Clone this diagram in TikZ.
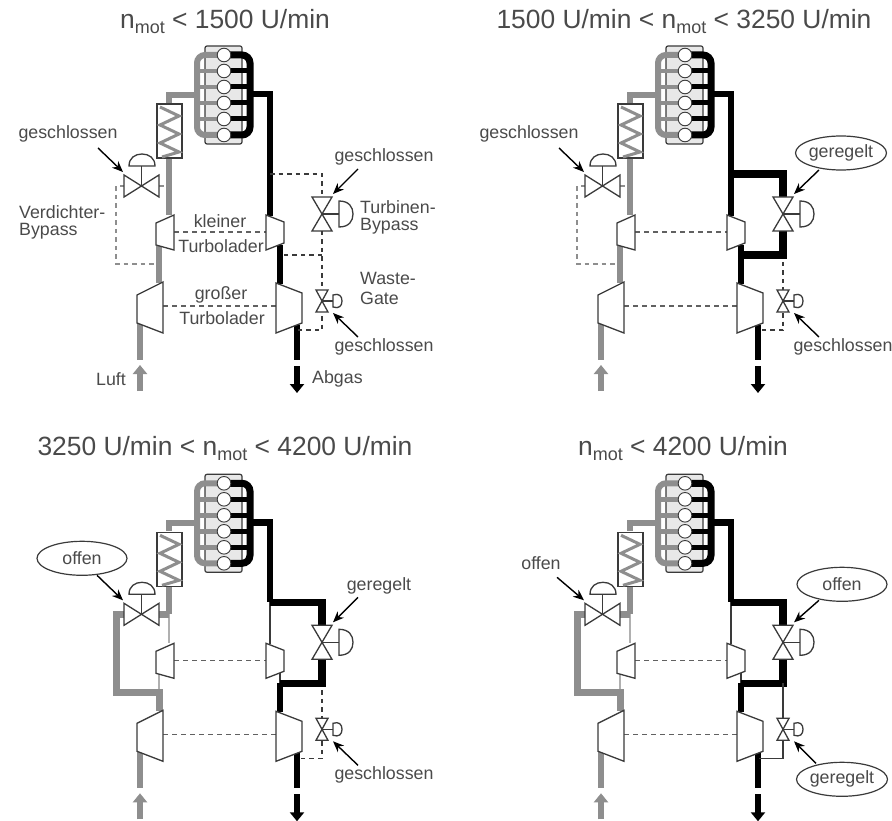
\documentclass[tikz,border=0pt]{standalone}
\usepackage{fontspec}
\setmainfont{Liberation Sans}
\usetikzlibrary{arrows.meta,shapes.geometric}
\definecolor{pipegray}{HTML}{8E8E8E}
\definecolor{inkdark}{HTML}{3A3A3A}
\definecolor{txt}{HTML}{4A4A4A}
\definecolor{blockfill}{HTML}{E8E8E8}
\tikzset{
  label text/.style={font=\fontsize{17.8}{20}\selectfont,text=txt,inner sep=0pt},
  title text/.style={font=\fontsize{26.4}{28}\selectfont,text=txt,inner sep=0pt},
  pipeair/.style={draw=pipegray,line width=6pt},
  pipegas/.style={draw=black,line width=6.5pt},
  bypassair/.style={draw=pipegray,line width=7pt,line join=miter},
  bypassgas/.style={draw=black,line width=7.5pt,line join=miter},
  thinair/.style={draw=pipegray!70,line width=1.3pt},
  thingas/.style={draw=inkdark,line width=1.3pt},
  ctrl/.style={draw=inkdark,line width=1.4pt,dash pattern=on 4.5pt off 4pt},
  ctrlair/.style={draw=pipegray,line width=1.3pt,dash pattern=on 4.5pt off 4pt},
  shaft/.style={draw=inkdark!80,line width=1.2pt,dash pattern=on 5pt off 4pt},
  part/.style={draw=inkdark,line width=1.3pt,fill=white,line join=miter},
  oval/.style={shape=ellipse,draw=inkdark,line width=1.2pt,fill=white,minimum width=90pt,minimum height=34pt,inner sep=0pt,font=\fontsize{17.8}{20}\selectfont,text=txt},
  callout/.style={draw=black,line width=1.4pt,-{Stealth[length=11pt,width=9pt]}},
  airflow/.style={draw=pipegray,line width=6pt,-{Triangle[length=9pt,width=14pt]}},
  gasflow/.style={draw=black,line width=6pt,-{Triangle[length=9pt,width=14pt]}},
}
\newcommand{\nmot}{n\raisebox{-5pt}{\fontsize{18}{20}\selectfont mot}}
\newcommand{\tmcallout}[4]{\coordinate (#1) at (#2,#3); \draw[callout] (#1) -- (#4);}
\newcommand{\tmpanel}[4]{%
\begin{scope}[shift={(#1,#2)},name prefix=#3-]
  % connection points
  \coordinate (manif) at (197,95);
  \coordinate (corner) at (169,95);
  \coordinate (coolT) at (169,103);
  \coordinate (coolB) at (169,158);
  \coordinate (tapA) at (169,186);
  \coordinate (valveAR) at (159,186);
  \coordinate (valveAL) at (124,186);
  \coordinate (aTip) at (123,172);
  \coordinate (byA) at (116,186);
  \coordinate (byAb) at (116,264);
  \coordinate (byAc) at (156,264);
  \coordinate (cs) at (169,215);
  \coordinate (csB) at (159,246);
  \coordinate (cl) at (159,283);
  \coordinate (clB) at (140,323);
  \coordinate (airend) at (140,360);
  \coordinate (airA) at (140,391);
  \coordinate (airB) at (140,365);
  \coordinate (exM) at (249,94);
  \coordinate (exC) at (270,94);
  \coordinate (tapG) at (270,174);
  \coordinate (ts) at (270,216);
  \coordinate (tsB) at (280,245);
  \coordinate (tapL) at (280,255);
  \coordinate (tl) at (280,284);
  \coordinate (tlB) at (297,325);
  \coordinate (gasend) at (297,360);
  \coordinate (gasA) at (297,366);
  \coordinate (gasB) at (297,393);
  \coordinate (byGa) at (322,174);
  \coordinate (vT) at (322,197);
  \coordinate (vTip) at (333,194);
  \coordinate (vB) at (322,231);
  \coordinate (byGb) at (322,255);
  \coordinate (byGe) at (322,262);
  \coordinate (wTip) at (333,313);
  \coordinate (byGc) at (322,330);
  \coordinate (byGd) at (298,330);
  \coordinate (sh1a) at (174,232);
  \coordinate (sh1b) at (266,232);
  \coordinate (sh2a) at (163,306);
  \coordinate (sh2b) at (276,306);
  % cooler-side and engine-side pipes
  \draw[pipeair] (manif) -- (corner) -- (coolT);
  \draw[pipegas] (exM) -- (exC) -- (tapG);
  \draw[pipeair] (clB) -- (airend);
  \draw[pipegas] (tlB) -- (gasend);
  \draw[airflow] (airA) -- (airB);
  \draw[gasflow] (gasA) -- (gasB);
  \draw[shaft] (sh1a) -- (sh1b);
  \draw[shaft] (sh2a) -- (sh2b);
  % state dependent lines and labels
  #4
  % engine
  \draw[fill=blockfill,draw=inkdark,line width=1.2pt,rounded corners=2pt] (205,46) rectangle (242,144);
  \draw[draw=pipegray,line width=6pt,rounded corners=8pt] (224,55) -- (197,55) -- (197,135) -- (224,135);
  \foreach \yy in {71,87,103,119} \draw[draw=pipegray,line width=4.5pt] (197,\yy) -- (224,\yy);
  \draw[draw=black,line width=7pt,rounded corners=8pt] (224,55) -- (250,55) -- (250,135) -- (224,135);
  \foreach \yy in {71,87,103,119} \draw[draw=black,line width=5pt] (224,\yy) -- (250,\yy);
  \foreach \yy in {55,71,87,103,119,135} \draw[draw=inkdark,line width=0.9pt,fill=white] (224,\yy) circle[radius=6.8];
  % charge air cooler
  \draw[part] (157,104) rectangle (182,158);
  \draw[draw=pipegray,line width=3pt,line join=miter] (160,107) -- (179,116) -- (160,125) -- (179,134) -- (160,143) -- (179,152) -- (162,157);
  % compressors and turbines
  \draw[part] (156,223) -- (174,215) -- (174,250) -- (156,245) -- cycle;
  \draw[part] (137,295) -- (163,282) -- (163,333) -- (137,323) -- cycle;
  \draw[part] (266,215) -- (284,222) -- (284,243) -- (266,250) -- cycle;
  \draw[part] (276,283) -- (302,293) -- (302,323) -- (276,333) -- cycle;
  % compressor bypass valve
  \draw[draw=inkdark,line width=1.3pt] (141.5,186) -- (141.5,166);
  \draw[part] (124,175) -- (159,197) -- (159,175) -- (124,197) -- cycle;
  \draw[part] (129,166) .. controls (129,158) and (135,154) .. (142,154) .. controls (149,154) and (155,158) .. (155,166) -- cycle;
  % turbine bypass valve
  \draw[draw=inkdark,line width=1.3pt] (322,214) -- (339,214);
  \draw[part] (312,197) -- (332,197) -- (312,231) -- (332,231) -- cycle;
  \draw[part] (339,201) .. controls (349,201) and (353,207) .. (353,214) .. controls (353,221) and (349,227) .. (339,227) -- cycle;
  % waste gate
  \draw[draw=inkdark,line width=1.3pt] (322,301) -- (333,301);
  \draw[part] (316,290) -- (328,290) -- (316,312) -- (328,312) -- cycle;
  \draw[part] (333,295) .. controls (339,293) and (342,296) .. (342,301) .. controls (342,306) and (339,309) .. (333,307) -- cycle;
\end{scope}}
\begin{document}
\begin{tikzpicture}[x=1pt,y=-1pt]
\useasboundingbox (0,0) rectangle (892,821);
% ---------- panel 1
\tmpanel{0}{0}{a}{
  \draw[pipegas] (tapG) -- (ts);
  \draw[pipeair] (coolB) -- (cs);
  \draw[pipeair] (csB) -- (cl);
  \draw[pipegas] (tsB) -- (tl);
  \draw[ctrlair] (valveAR) -- (tapA);
  \draw[ctrlair] (valveAL) -- (byA) -- (byAb) -- (byAc);
  \draw[ctrl] (tapG) -- (byGa) -- (vT);
  \draw[ctrl] (vB) -- (byGc) -- (byGd);
  \draw[ctrl] (byGb) -- (tapL);
  \node[title text] (title) at (225,22) {\nmot{} < 1500 U/min};
  \node[label text] (kl) at (220,221) {kleiner};
  \node[label text] (tu1) at (221,246) {Turbolader};
  \node[label text] (gr) at (221,295) {großer};
  \node[label text] (tu2) at (222,318) {Turbolader};
  \node[label text,anchor=west] (vd) at (19,212) {Verdichter-};
  \node[label text,anchor=west] (bp) at (19,231) {Bypass};
  \node[label text] (g1) at (68,134) {geschlossen};
  \tmcallout{g1s}{98}{148}{aTip}
  \node[label text] (g2) at (384,157) {geschlossen};
  \tmcallout{g2s}{358}{169}{vTip}
  \node[label text,anchor=west] (tb) at (360,207) {Turbinen-};
  \node[label text,anchor=west] (tb2) at (360,226) {Bypass};
  \node[label text,anchor=west] (wg) at (360,278) {Waste-};
  \node[label text,anchor=west] (wg2) at (360,298) {Gate};
  \node[label text] (g3) at (384,347) {geschlossen};
  \tmcallout{g3s}{358}{337}{wTip}
  \node[label text,anchor=east] (luft) at (126,379) {Luft};
  \node[label text,anchor=west] (abgas) at (312,379) {Abgas};
}
% ---------- panel 2
\tmpanel{461}{0}{b}{
  \draw[pipegas] (tapG) -- (ts);
  \draw[pipeair] (coolB) -- (cs);
  \draw[pipeair] (csB) -- (cl);
  \draw[pipegas] (tsB) -- (tl);
  \draw[ctrlair] (valveAR) -- (tapA);
  \draw[ctrlair] (valveAL) -- (byA) -- (byAb) -- (byAc);
  \draw[bypassgas] (tapG) -- (byGa) -- (vT);
  \draw[bypassgas] (vB) -- (byGb) -- (tapL);
  \draw[ctrl] (byGe) -- (byGc) -- (byGd);
  \node[title text] (title) at (223,22) {1500 U/min < \nmot{} < 3250 U/min};
  \node[label text] (g1) at (68,134) {geschlossen};
  \tmcallout{g1s}{98}{148}{aTip}
  \node[oval] (o1) at (380,153) {geregelt};
  \tmcallout{o1s}{358}{170}{vTip}
  \node[label text] (g3) at (382,347) {geschlossen};
  \tmcallout{g3s}{358}{337}{wTip}
}
% ---------- panel 3
\tmpanel{0}{428.3}{c}{
  \draw[pipeair] (coolB) -- (tapA);
  \draw[thinair] (tapA) -- (cs);
  \draw[thinair] (csB) -- (byAb -| csB);
  \draw[bypassair] (tapA) -- (valveAR);
  \draw[bypassair] (valveAL) -- (byA) -- (byAb) -- (byAb -| cl) -- (cl);
  \draw[thingas] (tapG) -- (ts);
  \draw[thingas] (tsB) -- (tapL);
  \draw[pipegas] (tapL) -- (tl);
  \draw[bypassgas] (tapG) -- (byGa) -- (vT);
  \draw[bypassgas] (vB) -- (byGb) -- (tapL);
  \draw[ctrl] (byGe) -- (byGc) -- (byGd);
  \node[title text] (title) at (225,20) {3250 U/min < \nmot{} < 4200 U/min};
  \node[oval] (o1) at (82,130) {offen};
  \tmcallout{o1s}{97}{147}{aTip}
  \node[label text] (g2) at (379,158) {geregelt};
  \tmcallout{g2s}{358}{169}{vTip}
  \node[label text] (g3) at (384,347) {geschlossen};
  \tmcallout{g3s}{358}{337}{wTip}
}
% ---------- panel 4
\tmpanel{461}{428.3}{d}{
  \draw[pipeair] (coolB) -- (tapA);
  \draw[thinair] (tapA) -- (cs);
  \draw[thinair] (csB) -- (byAb -| csB);
  \draw[bypassair] (tapA) -- (valveAR);
  \draw[bypassair] (valveAL) -- (byA) -- (byAb) -- (byAb -| cl) -- (cl);
  \draw[thingas] (tapG) -- (ts);
  \draw[thingas] (tsB) -- (tapL);
  \draw[pipegas] (tapL) -- (tl);
  \draw[bypassgas] (tapG) -- (byGa) -- (vT);
  \draw[bypassgas] (vB) -- (byGb) -- (tapL);
  \draw[thingas] (byGb) -- (byGc) -- (byGd);
  \node[title text] (title) at (222,20) {\nmot{} < 4200 U/min};
  \node[label text] (g1) at (80,135) {offen};
  \tmcallout{g1s}{96}{149}{aTip}
  \node[oval] (o1) at (381,156) {offen};
  \tmcallout{o1s}{358}{172}{vTip}
  \node[oval] (o2) at (381,351) {geregelt};
  \tmcallout{o2s}{355}{335}{wTip}
}
\end{tikzpicture}
\end{document}
